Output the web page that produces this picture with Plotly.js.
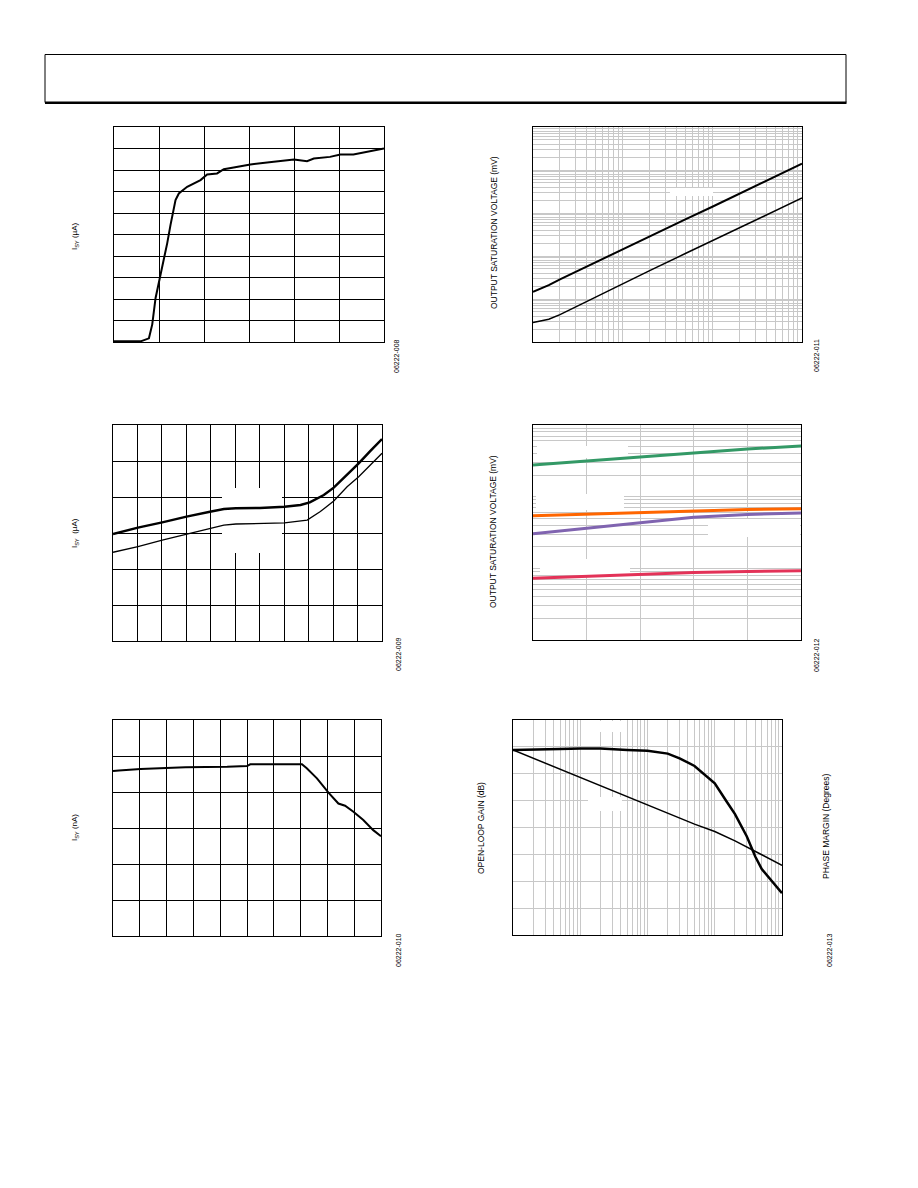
<!DOCTYPE html>
<html>
<head>
<meta charset="utf-8">
<script src="https://cdn.plot.ly/plotly-3.0.1.min.js"></script>
<style>html,body{margin:0;padding:0;background:#fff;}#chart{width:918px;height:1188px;}</style>
</head>
<body>
<div id="chart"></div>
<script>
// ---------- Data ----------
// Chart 1: supply current vs supply voltage
const c1Vsy = [0, 0.59, 0.776, 0.85, 0.924, 1.02, 1.109, 1.183, 1.256, 1.316, 1.367, 1.441, 1.626, 1.922, 2.07, 2.29, 2.44, 2.66, 3.03, 3.55, 4.0, 4.29, 4.44, 4.8, 5.03, 5.32, 5.69, 6.0];
const c1Isy = [0.003, 0.003, 0.017, 0.082, 0.205, 0.298, 0.390, 0.460, 0.545, 0.614, 0.660, 0.691, 0.722, 0.753, 0.779, 0.784, 0.804, 0.812, 0.826, 0.838, 0.849, 0.841, 0.853, 0.861, 0.872, 0.872, 0.887, 0.900];

// Chart 2: output saturation voltage vs load current (log-log)
const c2Load = [0.001, 0.0015, 0.002, 0.003, 0.005, 0.01, 0.02, 0.05, 0.1, 0.2, 0.5, 1];
const c2VoutHigh = [0.146, 0.21, 0.286, 0.43, 0.724, 1.43, 2.87, 7.12, 14.0, 28.2, 70.0, 140];
const c2VoutLow = [0.0282, 0.0337, 0.0433, 0.066, 0.111, 0.228, 0.457, 1.14, 2.25, 4.5, 11.2, 22.3];

// Chart 3: supply current vs temperature
const c3Temp = [-40, -24.7, -9.8, 5.1, 20.2, 28.0, 35.4, 50.1, 65.2, 75.0, 80.7, 89.3, 95.4, 103.6, 110.7, 117.9, 125];
const c3IsyHigh = [0.594, 0.630, 0.659, 0.691, 0.719, 0.733, 0.737, 0.739, 0.746, 0.756, 0.770, 0.811, 0.852, 0.922, 0.987, 1.056, 1.122];
const c3TempLow = [-40, -24.7, -9.8, 5.1, 20.2, 28.0, 35.4, 50.1, 65.2, 79.1, 87.2, 95.4, 103.6, 110.7, 117.9, 125];
const c3IsyLow = [0.493, 0.524, 0.561, 0.593, 0.626, 0.644, 0.650, 0.652, 0.656, 0.672, 0.719, 0.778, 0.857, 0.913, 0.978, 1.043];

// Chart 4: output saturation voltage vs supply voltage (log y)
const c4Vsy = [1, 2, 3, 4, 5, 6];
const c4Green = [277, 315, 362, 407, 463, 510];
const c4Orange = [54.0, 56.9, 60.7, 64.0, 66.1, 67.6];
const c4Purple = [30.3, 36.3, 44.0, 51.7, 56.3, 59.4];
const c4Red = [7.30, 7.78, 8.30, 8.75, 9.03, 9.24];

// Chart 5: supply current (nA)
const c5X = [0, 2.2, 10.3, 20.2, 27.0, 42.6, 50.0, 51.2, 70.5, 72.3, 76.1, 80.4, 84.1, 86.6, 89.7, 93.4, 97.1, 100];
const c5Isy = [458, 460, 464, 466, 469, 470, 472, 477, 477, 466, 438, 398, 368, 362, 345, 322, 294, 277];

// Chart 6: open-loop gain and phase margin vs frequency
const c6Freq = [10, 20, 50, 100, 200, 500, 1000, 2000, 5000, 10000, 20000, 50000, 100000];
const c6Gain = [97.7, 91.5, 83.6, 77.4, 71.2, 63.3, 56.8, 50.7, 42.5, 37.0, 30.1, 19.7, 11.8];
const c6PhFreq = [10, 20, 50, 100, 200, 500, 1000, 2000, 3000, 5000, 7000, 10000, 15000, 20000, 30000, 40000, 50000, 70000, 100000];
const c6Phase = [129.8, 131.0, 131.5, 132.1, 132.1, 129.8, 128.7, 123.7, 115.9, 103.1, 89.7, 74.1, 43.5, 22.3, -15.1, -48.5, -69.7, -88.6, -109.8];

const yTitle1 = 'I<sub>SY</sub> (µA)';
const yTitle3 = 'I<sub>SY</sub>  (µA)';
const yTitle5 = 'I<sub>SY</sub> (nA)';
const yTitleSat = 'OUTPUT SATURATION VOLTAGE (mV)';
const yTitleGain = 'OPEN-LOOP GAIN (dB)';
const yTitlePhase = 'PHASE MARGIN (Degrees)';
const figCodes = ['06222-008', '06222-011', '06222-009', '06222-012', '06222-010', '06222-013'];

// ---------- Layout helpers ----------
const W = 918, H = 1188;
const px = v => v / W;
const py = v => 1 - v / H;
const dX = (a, b) => [a / W, b / W];
const dY = (top, bot) => [1 - bot / H, 1 - top / H];
const FONT = 'Arial, "Liberation Sans", sans-serif';
const GRAY = '#c8c8c8';

// plot frames in page pixels: [left, right, top, bottom]
const frames = {
  1: [114, 384, 127, 342],
  2: [533, 802, 127, 342],
  3: [113, 382, 425, 641],
  4: [533, 801, 425, 640],
  5: [113, 381, 720, 936],
  6: [513, 782, 720, 935]
};
// axis settings per subplot: x range, x log?, y range, y log?
const axes = {
  1: {xr: [0, 6], xl: false, yr: [0, 1.0], yl: false},
  2: {xr: [-3, 0], xl: true, yr: [-2, 3], yl: true},
  3: {xr: [-40, 125], xl: false, yr: [0, 1.2], yl: false},
  4: {xr: [1, 6], xl: false, yr: [0, 3], yl: true},
  5: {xr: [0, 100], xl: false, yr: [0, 600], yl: false},
  6: {xr: [1, 5], xl: true, yr: [-40, 120], yl: false}
};

function ax(extra) {
  return Object.assign({
    showline: true, mirror: true, linecolor: '#000', linewidth: 1,
    showgrid: true, gridcolor: '#000', gridwidth: 1,
    zeroline: false, showticklabels: false, ticks: '', fixedrange: true
  }, extra);
}

const black = (x, y, w, xa, ya) => ({x: x, y: y, xaxis: xa, yaxis: ya, type: 'scatter', mode: 'lines',
  line: {color: '#000', width: w}, hoverinfo: 'skip', showlegend: false});
const col = (x, y, c, w, xa, ya) => ({x: x, y: y, xaxis: xa, yaxis: ya, type: 'scatter', mode: 'lines',
  line: {color: c, width: w}, hoverinfo: 'skip', showlegend: false});

// white blank areas (where legend text was removed in the reference), given in page pixels
// and converted to the subplot's axis space; drawn as white fills above gridlines, below curves
function mask(n, x0, x1, y0, y1) {
  const f = frames[n], a = axes[n];
  const conv = (v, lo, hi, r, isLog, flip) => {
    let t = (v - lo) / (hi - lo);
    if (flip) t = 1 - t;
    const val = r[0] + t * (r[1] - r[0]);
    return isLog ? Math.pow(10, val) : val;
  };
  const X = v => conv(v, f[0], f[1], a.xr, a.xl, false);
  const Y = v => conv(v, f[2], f[3], a.yr, a.yl, true);
  const s = n === 1 ? '' : String(n);
  return {x: [X(x0), X(x1), X(x1), X(x0), X(x0)], y: [Y(y0), Y(y0), Y(y1), Y(y1), Y(y0)],
    xaxis: 'x' + s, yaxis: 'y' + s, type: 'scatter', mode: 'lines', fill: 'toself',
    fillcolor: '#ffffff', line: {width: 0, color: 'rgba(0,0,0,0)'}, hoverinfo: 'skip', showlegend: false};
}

const data = [
  mask(2, 670, 713, 188, 196),
  mask(3, 222, 282, 488, 553),
  mask(4, 537, 628, 446, 458),
  mask(4, 536, 624, 494, 510),
  mask(4, 540, 630, 559, 575),
  mask(4, 708, 800, 519, 537),
  mask(6, 598, 622, 721, 732),
  mask(6, 588, 622, 797, 811),
  black(c1Vsy, c1Isy, 2, 'x', 'y'),
  black(c2Load, c2VoutHigh, 2, 'x2', 'y2'),
  black(c2Load, c2VoutLow, 1.5, 'x2', 'y2'),
  black(c3Temp, c3IsyHigh, 2.5, 'x3', 'y3'),
  black(c3TempLow, c3IsyLow, 1.3, 'x3', 'y3'),
  col(c4Vsy, c4Green, '#339966', 3, 'x4', 'y4'),
  col(c4Vsy, c4Orange, '#ff6600', 3, 'x4', 'y4'),
  col(c4Vsy, c4Purple, '#8064b0', 3, 'x4', 'y4'),
  col(c4Vsy, c4Red, '#e33258', 3, 'x4', 'y4'),
  black(c5X, c5Isy, 2, 'x5', 'y5'),
  black(c6Freq, c6Gain, 1.5, 'x6', 'y6'),
  black(c6PhFreq, c6Phase, 2.5, 'x6', 'y7')
];

function note(text, x, y, size, angle, extra) {
  return Object.assign({text: text, xref: 'paper', yref: 'paper', x: px(x), y: py(y),
    xanchor: 'center', yanchor: 'middle', showarrow: false, textangle: angle,
    font: {family: FONT, size: size, color: '#000'}}, extra || {});
}

const layout = {
  width: W, height: H,
  margin: {l: 0, r: 0, t: 0, b: 0},
  paper_bgcolor: '#fff', plot_bgcolor: '#fff',
  showlegend: false,
  font: {family: FONT, size: 8, color: '#000'},
  xaxis:  ax({domain: dX(frames[1][0], frames[1][1]), range: axes[1].xr, dtick: 1, anchor: 'y'}),
  yaxis:  ax({domain: dY(frames[1][2], frames[1][3]), range: axes[1].yr, dtick: 0.1, anchor: 'x'}),
  xaxis2: ax({domain: dX(frames[2][0], frames[2][1]), type: 'log', range: axes[2].xr, dtick: 'D1', gridcolor: GRAY, anchor: 'y2'}),
  yaxis2: ax({domain: dY(frames[2][2], frames[2][3]), type: 'log', range: axes[2].yr, dtick: 'D1', gridcolor: GRAY, anchor: 'x2'}),
  xaxis3: ax({domain: dX(frames[3][0], frames[3][1]), range: axes[3].xr, tick0: -40, dtick: 15, anchor: 'y3'}),
  yaxis3: ax({domain: dY(frames[3][2], frames[3][3]), range: axes[3].yr, dtick: 0.2, anchor: 'x3'}),
  xaxis4: ax({domain: dX(frames[4][0], frames[4][1]), range: axes[4].xr, dtick: 1, gridcolor: GRAY, anchor: 'y4'}),
  yaxis4: ax({domain: dY(frames[4][2], frames[4][3]), type: 'log', range: axes[4].yr, dtick: 'D1', gridcolor: GRAY, anchor: 'x4'}),
  xaxis5: ax({domain: dX(frames[5][0], frames[5][1]), range: axes[5].xr, dtick: 10, anchor: 'y5'}),
  yaxis5: ax({domain: dY(frames[5][2], frames[5][3]), range: axes[5].yr, dtick: 100, anchor: 'x5'}),
  xaxis6: ax({domain: dX(frames[6][0], frames[6][1]), type: 'log', range: axes[6].xr, dtick: 'D1', gridcolor: GRAY, anchor: 'y6'}),
  yaxis6: ax({domain: dY(frames[6][2], frames[6][3]), range: axes[6].yr, dtick: 20, gridcolor: GRAY, anchor: 'x6'}),
  yaxis7: ax({domain: dY(frames[6][2], frames[6][3]), range: [-180, 180], dtick: 45, overlaying: 'y6', side: 'right', anchor: 'x6', showgrid: false}),
  shapes: [
    // page header box
    {type: 'rect', xref: 'paper', yref: 'paper', x0: px(45), x1: px(846), y0: py(102.5), y1: py(54.5),
      line: {color: '#000', width: 1}, fillcolor: 'rgba(0,0,0,0)'},
    {type: 'line', xref: 'paper', yref: 'paper', x0: px(45), x1: px(846.5), y0: py(102.8), y1: py(102.8),
      line: {color: '#000', width: 2.5}}
  ],
  annotations: [
    note(yTitle1, 75, 236, 8, -90),
    note(yTitle3, 75, 533, 8, -90),
    note(yTitle5, 75, 828, 8, -90),
    note(yTitleSat, 494, 233, 8.5, -90),
    note(yTitleSat, 493, 532, 8.5, -90),
    note(yTitleGain, 481, 828, 8.5, -90),
    note(yTitlePhase, 826, 827, 8.5, -90),
    note(figCodes[0], 396, 356, 7, -90),
    note(figCodes[1], 816, 356, 7, -90),
    note(figCodes[2], 398, 654, 7, -90),
    note(figCodes[3], 816, 655, 7, -90),
    note(figCodes[4], 398, 950, 7, -90),
    note(figCodes[5], 829, 950, 7, -90)
  ]
};

Plotly.newPlot('chart', data, layout, {staticPlot: true, displayModeBar: false});
</script>
</body>
</html>
